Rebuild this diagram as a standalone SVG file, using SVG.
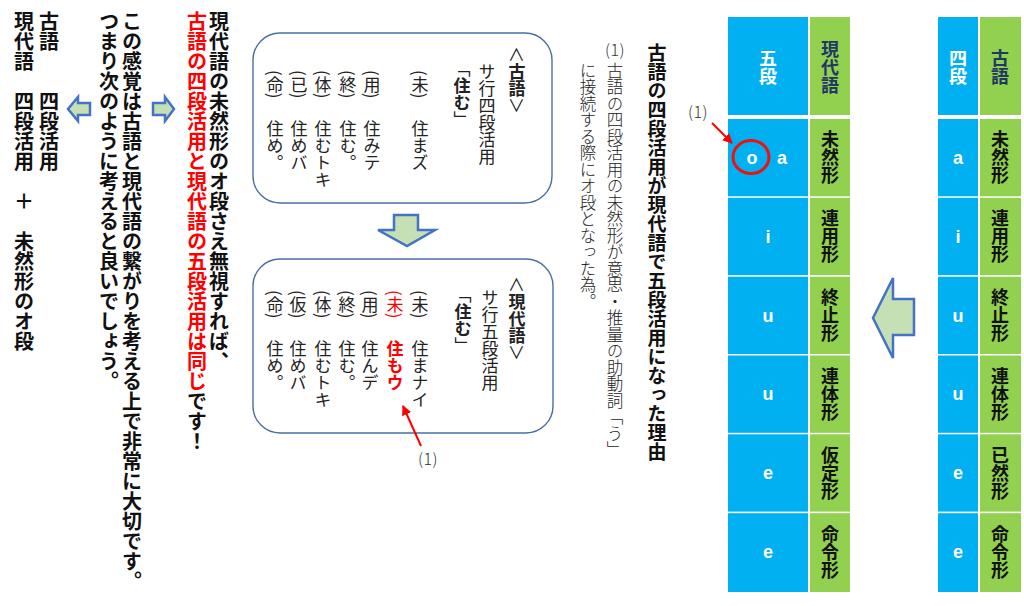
<svg xmlns="http://www.w3.org/2000/svg" width="1024" height="606" viewBox="0 0 1024 606">
<style>
text { font-family: 'Noto Sans CJK JP', 'Noto Sans', sans-serif; }
.v { writing-mode: vertical-rl; }
.lat { font-family: 'Liberation Sans', Arial, sans-serif; font-weight: 700; font-size: 18px; fill: #fff; text-anchor: middle; }
.hdw { font-size: 18px; font-weight: 700; fill: #fff; }
.hdn { font-size: 18px; font-weight: 700; fill: #1f3864; }
.form { font-size: 18px; font-weight: 700; fill: #111; }
.blue { fill: #00b0f0; }
.green { fill: #92d050; }
.box { fill: #fff; stroke: #4a6fa5; stroke-width: 1.4; }
.arr { fill: #c5e0b4; stroke: #4472c4; stroke-width: 2.5; }
.bt { font-size: 17px; fill: #222; }
.bb { font-weight: 700; }
.big { font-size: 20px; font-weight: 700; fill: #111; }
.red { fill: #ff0000; }
.note { font-size: 16.5px; fill: #222; font-weight: 300; }
.title { font-size: 19px; font-weight: 700; fill: #111; }
.ref { font-size: 16px; fill: #333; font-weight: 300; text-anchor: middle; letter-spacing: 0.5px; }
.rline { stroke: #ff0000; stroke-width: 2; fill: none; }
</style>
<defs>
<marker id="ah" viewBox="0 0 10 10" refX="9" refY="5" markerWidth="5" markerHeight="5" orient="auto">
<path d="M0,0 L10,5 L0,10 z" fill="#ff0000"/>
</marker>
</defs>
<rect width="1024" height="606" fill="#fff"/>

<!-- Kogo table -->
<g id="table-kogo">
<rect class="blue" x="938" y="17" width="40" height="98"/>
<rect class="green" x="980" y="17" width="41" height="98"/>
<text class="hdw v" x="958" y="49">四段</text>
<text class="hdn v" x="1000" y="49">古語</text>
<rect class="blue" x="938" y="119" width="40" height="77.3"/>
<rect class="blue" x="938" y="197.8" width="40" height="77.3"/>
<rect class="blue" x="938" y="276.7" width="40" height="77.3"/>
<rect class="blue" x="938" y="355.5" width="40" height="77.3"/>
<rect class="blue" x="938" y="434.3" width="40" height="77.3"/>
<rect class="blue" x="938" y="513.2" width="40" height="78.8"/>
<rect class="green" x="980" y="119" width="41" height="77.3"/>
<rect class="green" x="980" y="197.8" width="41" height="77.3"/>
<rect class="green" x="980" y="276.7" width="41" height="77.3"/>
<rect class="green" x="980" y="355.5" width="41" height="77.3"/>
<rect class="green" x="980" y="434.3" width="41" height="77.3"/>
<rect class="green" x="980" y="513.2" width="41" height="78.8"/>
<text class="lat" x="958" y="164">a</text>
<text class="lat" x="958" y="243">i</text>
<text class="lat" x="958" y="322">u</text>
<text class="lat" x="958" y="400">u</text>
<text class="lat" x="958" y="479">e</text>
<text class="lat" x="958" y="558">e</text>
<text class="form v" x="1000" y="130.6">未然形</text>
<text class="form v" x="1000" y="209.5">連用形</text>
<text class="form v" x="1000" y="288.3">終止形</text>
<text class="form v" x="1000" y="367.1">連体形</text>
<text class="form v" x="1000" y="446">已然形</text>
<text class="form v" x="1000" y="524.8">命令形</text>
</g>

<!-- Gendaigo table -->
<g id="table-gendai">
<rect class="blue" x="728" y="17" width="80" height="98"/>
<rect class="green" x="810" y="17" width="40" height="98"/>
<text class="hdw v" x="768" y="49">五段</text>
<text class="hdn v" x="830" y="40">現代語</text>
<rect class="blue" x="728" y="119" width="80" height="77.3"/>
<rect class="blue" x="728" y="197.8" width="80" height="77.3"/>
<rect class="blue" x="728" y="276.7" width="80" height="77.3"/>
<rect class="blue" x="728" y="355.5" width="80" height="77.3"/>
<rect class="blue" x="728" y="434.3" width="80" height="77.3"/>
<rect class="blue" x="728" y="513.2" width="80" height="78.8"/>
<rect class="green" x="810" y="119" width="40" height="77.3"/>
<rect class="green" x="810" y="197.8" width="40" height="77.3"/>
<rect class="green" x="810" y="276.7" width="40" height="77.3"/>
<rect class="green" x="810" y="355.5" width="40" height="77.3"/>
<rect class="green" x="810" y="434.3" width="40" height="77.3"/>
<rect class="green" x="810" y="513.2" width="40" height="78.8"/>
<text class="lat" x="752" y="164">o</text>
<text class="lat" x="782" y="164">a</text>
<text class="lat" x="768" y="243">i</text>
<text class="lat" x="768" y="322">u</text>
<text class="lat" x="768" y="400">u</text>
<text class="lat" x="768" y="479">e</text>
<text class="lat" x="768" y="558">e</text>
<text class="form v" x="830" y="130.6">未然形</text>
<text class="form v" x="830" y="209.5">連用形</text>
<text class="form v" x="830" y="288.3">終止形</text>
<text class="form v" x="830" y="367.1">連体形</text>
<text class="form v" x="830" y="446">仮定形</text>
<text class="form v" x="830" y="524.8">命令形</text>
<ellipse cx="751" cy="157" rx="18" ry="16.5" fill="none" stroke="#ee1111" stroke-width="3"/>
</g>

<!-- Explanation -->
<g id="title">
<text class="title v" x="657" y="43">古語の四段活用が現代語で五段活用になった理由</text>
</g>
<g id="note">
<text class="ref" x="615" y="56">(1)</text>
<text class="note v" x="615" y="62">古語の四段活用の未然形が意思・推量の助動詞「う」</text>
<text class="note v" x="588" y="62">に接続する際にオ段となった為。</text>
</g>
<g id="ref1">
<text class="ref" x="698" y="118">(1)</text>
</g>
<g id="ref2">
<text class="ref" x="428" y="465">(1)</text>
</g>

<!-- Box 1 kogo -->
<g id="box-kogo">
<rect class="box" x="253" y="33" width="299" height="170" rx="27" ry="27"/>
<text class="bt v" x="517" y="46">＜<tspan class="bb">古語</tspan>＞</text>
<text class="bt v" x="487" y="63">サ行四段活用</text>
<text class="bt v" x="462" y="60">「<tspan class="bb">住む</tspan>」</text>
<text class="bt v" x="420" y="70">(未)</text>
<text class="bt v" x="420" y="120">住まズ</text>
<text class="bt v" x="372" y="70">(用)</text>
<text class="bt v" x="372" y="120">住みテ</text>
<text class="bt v" x="348" y="70">(終)</text>
<text class="bt v" x="348" y="120">住む。</text>
<text class="bt v" x="323" y="70">(体)</text>
<text class="bt v" x="323" y="120">住むトキ</text>
<text class="bt v" x="299" y="70">(已)</text>
<text class="bt v" x="299" y="120">住めバ</text>
<text class="bt v" x="275" y="70">(命)</text>
<text class="bt v" x="275" y="120">住め。</text>
</g>

<!-- Box 2 gendai -->
<g id="box-gendai">
<rect class="box" x="253" y="259" width="300" height="174" rx="27" ry="27"/>
<text class="bt v" x="517" y="276">＜<tspan class="bb">現代語</tspan>＞</text>
<text class="bt v" x="490" y="289">サ行五段活用</text>
<text class="bt v" x="463" y="286">「<tspan class="bb">住む</tspan>」</text>
<text class="bt v" x="420" y="290">(未)</text>
<text class="bt v" x="420" y="340">住まナイ</text>
<text class="bt v red" x="395" y="290">(未)</text>
<text class="bt v red bb" x="395" y="340">住もウ</text>
<text class="bt v" x="370" y="290">(用)</text>
<text class="bt v" x="370" y="340">住んデ</text>
<text class="bt v" x="347" y="290">(終)</text>
<text class="bt v" x="347" y="340">住む。</text>
<text class="bt v" x="323" y="290">(体)</text>
<text class="bt v" x="323" y="340">住むトキ</text>
<text class="bt v" x="298" y="290">(仮)</text>
<text class="bt v" x="298" y="340">住めバ</text>
<text class="bt v" x="275" y="290">(命)</text>
<text class="bt v" x="275" y="340">住め。</text>
</g>

<!-- Left text -->
<g id="conclusion">
<text class="big v" x="219" y="11">現代語の未然形のオ段さえ無視すれば、</text>
<text class="big v" x="197" y="11"><tspan class="red">古語の四段活用と現代語の五段活用は同じ</tspan>です！</text>
<text class="big v" x="132" y="11">この感覚は古語と現代語の繋がりを考える上で非常に大切です。</text>
<text class="big v" x="109" y="11">つまり次のように考えると良いでしょう。</text>
<text class="big v" x="49" y="11">古語　　四段活用</text>
<text class="big v" x="24" y="11">現代語　四段活用　＋　未然形のオ段</text>
</g>

<!-- Connectors -->
<g id="connectors">
<polygon class="arr" points="914,299 893,299 893,278 873,318 893,358 893,335 914,335"/>
<polygon class="arr" points="394,215 418,215 418,230 435,230 407,246 378,230 394,230"/>
<polygon class="arr" points="153,103 165,103 165,97 174,109 165,121 165,115 153,115"/>
<polygon class="arr" points="90,103 78,103 78,97 68,109 78,121 78,115 90,115"/>
<line class="rline" x1="712" y1="123" x2="732" y2="143" marker-end="url(#ah)"/>
<line class="rline" x1="421" y1="446" x2="403" y2="406" marker-end="url(#ah)"/>
</g>
</svg>
